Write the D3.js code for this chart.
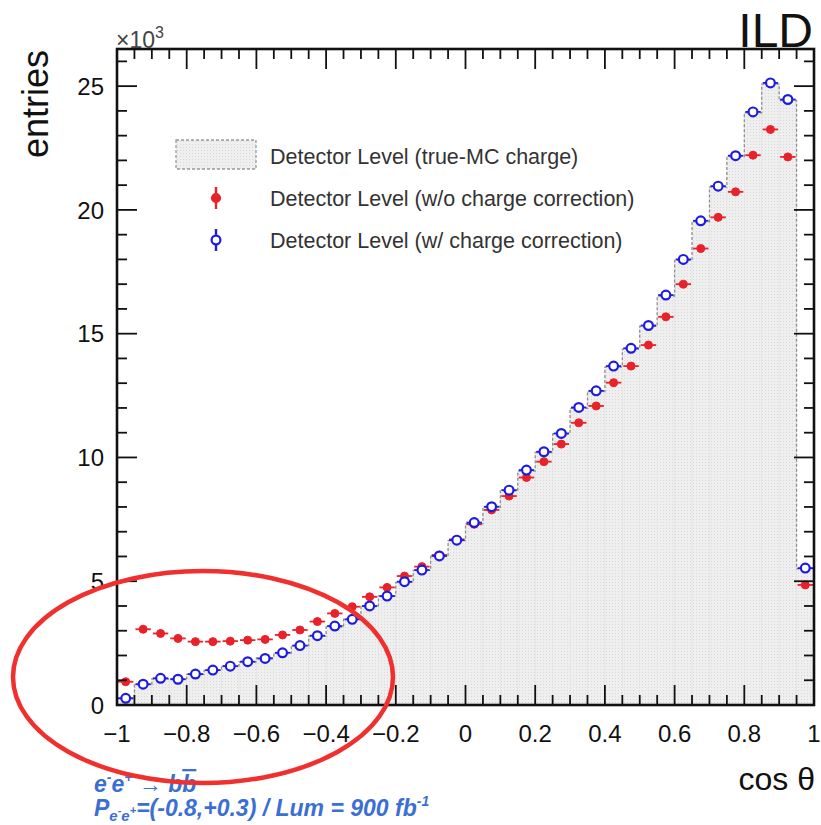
<!DOCTYPE html>
<html>
<head>
<meta charset="utf-8">
<script src="https://cdn.jsdelivr.net/npm/d3@7/dist/d3.min.js"></script>
<style>
  html, body { margin: 0; padding: 0; background: #fff; }
  svg { display: block; font-family: "Liberation Sans", Arial, Helvetica, sans-serif; }
</style>
</head>
<body>
<svg id="chart" width="821" height="825"></svg>
<script>
// cos(theta) binning: 40 bins of width 0.05 between -1 and 1
const binEdges = d3.range(41).map(i => -1 + i * 0.05);

// entries per bin, in units of 10^3
const trueMC = [0.30, 0.82, 1.05, 1.06, 1.24, 1.40, 1.58, 1.74, 1.90, 2.10,
                2.40, 2.78, 3.15, 3.47, 3.98, 4.41, 4.95, 5.44, 6.00, 6.64,
                7.33, 7.98, 8.65, 9.45, 10.20, 10.95, 11.98, 12.66, 13.65, 14.38,
                15.30, 16.52, 17.96, 19.52, 20.92, 22.15, 23.92, 25.08, 24.42, 5.50];

const noCorrection = [0.94, 3.06, 2.89, 2.69, 2.56, 2.56, 2.58, 2.62, 2.65, 2.83,
                      3.03, 3.37, 3.70, 3.97, 4.37, 4.75, 5.21, 5.59, 6.06, 6.69,
                      7.30, 7.88, 8.44, 9.19, 9.83, 10.54, 11.40, 12.08, 13.02, 13.69,
                      14.54, 15.68, 17.00, 18.44, 19.70, 20.73, 22.21, 23.25, 22.14, 4.85];

const withCorrection = [0.27, 0.84, 1.08, 1.04, 1.25, 1.41, 1.57, 1.75, 1.88, 2.11,
                        2.40, 2.80, 3.19, 3.46, 4.00, 4.40, 4.98, 5.45, 6.02, 6.66,
                        7.37, 8.01, 8.68, 9.49, 10.23, 10.97, 12.02, 12.69, 13.69, 14.41,
                        15.33, 16.56, 18.00, 19.56, 20.96, 22.19, 23.96, 25.13, 24.46, 5.53];

const xTicks = [-1, -0.8, -0.6, -0.4, -0.2, 0, 0.2, 0.4, 0.6, 0.8, 1];
const yTicks = [0, 5, 10, 15, 20, 25];

const legendLabels = [
  "Detector Level (true-MC charge)",
  "Detector Level (w/o charge correction)",
  "Detector Level (w/ charge correction)"
];

const RED = "#e82228", BLUE = "#1c1ce0", NOTE = "#3b6fd4";

const svg = d3.select("#chart");
const plotLeft = 117, plotRight = 814, plotTop = 49, plotBottom = 705;

const x = d3.scaleLinear().domain([-1, 1]).range([plotLeft, plotRight]);
const y = d3.scaleLinear().domain([0, 26.5]).range([plotBottom, plotTop]);

// ---- histogram (true-MC charge) ----
const bins = trueMC.map((v, i) => ({ x0: binEdges[i], x1: binEdges[i + 1], v }));

const defs = svg.append("defs");
const pat = defs.append("pattern").attr("id", "dots")
  .attr("patternUnits", "userSpaceOnUse").attr("width", 3).attr("height", 3);
pat.append("rect").attr("width", 3).attr("height", 3).attr("fill", "#efefef");
pat.append("rect").attr("width", 1).attr("height", 1).attr("fill", "#d9d9d9");

svg.append("g").selectAll("rect").data(bins).join("rect")
  .attr("x", d => x(d.x0)).attr("width", d => x(d.x1) - x(d.x0))
  .attr("y", d => y(d.v)).attr("height", d => y(0) - y(d.v))
  .attr("fill", "url(#dots)")
  .attr("stroke", "#e2e2e2").attr("stroke-width", 0.6);

// dashed step outline
const stepPts = [[binEdges[0], 0]];
bins.forEach(b => { stepPts.push([b.x0, b.v]); stepPts.push([b.x1, b.v]); });
stepPts.push([binEdges[40], 0]);
svg.append("path")
  .attr("d", d3.line().x(p => x(p[0])).y(p => y(p[1]))(stepPts))
  .attr("fill", "none").attr("stroke", "#8f8f8f").attr("stroke-width", 1.3)
  .attr("stroke-dasharray", "3,2");

// ---- data points ----
function drawSeries(values, color, open) {
  const g = svg.append("g");
  const pts = values.map((v, i) => ({
    cx: (binEdges[i] + binEdges[i + 1]) / 2, x0: binEdges[i], x1: binEdges[i + 1],
    v, err: Math.sqrt(v * 1000) / 1000
  }));
  g.selectAll("line.h").data(pts).join("line").attr("class", "h")
    .attr("x1", d => x(d.x0) + 1).attr("x2", d => x(d.x1) - 1)
    .attr("y1", d => y(d.v)).attr("y2", d => y(d.v))
    .attr("stroke", color).attr("stroke-width", 1.8);
  g.selectAll("line.v").data(pts).join("line").attr("class", "v")
    .attr("x1", d => x(d.cx)).attr("x2", d => x(d.cx))
    .attr("y1", d => y(d.v + d.err)).attr("y2", d => y(d.v - d.err))
    .attr("stroke", color).attr("stroke-width", 1.8);
  g.selectAll("circle").data(pts).join("circle")
    .attr("cx", d => x(d.cx)).attr("cy", d => y(d.v))
    .attr("r", open ? 4.4 : 4)
    .attr("fill", open ? "#fff" : color)
    .attr("stroke", color).attr("stroke-width", open ? 2.2 : 1);
}
drawSeries(noCorrection, RED, false);
drawSeries(withCorrection, BLUE, true);

// ---- frame and ticks (ticks inside on all four sides) ----
const axes = svg.append("g").attr("stroke", "#111");
const xMinor = d3.range(41).map(i => -1 + i * 0.05);
const yMinor = d3.range(27);

function tickSet(vals, isMajor, side) {
  const len = isMajor ? 20 : 10;
  const horiz = side === "b" || side === "t";
  axes.append("g").selectAll("line").data(vals).join("line")
    .attr("stroke-width", 1.8)
    .attr("x1", d => horiz ? x(d) : (side === "l" ? plotLeft : plotRight))
    .attr("x2", d => horiz ? x(d) : (side === "l" ? plotLeft + len : plotRight - len))
    .attr("y1", d => side === "b" ? plotBottom : side === "t" ? plotTop : y(d))
    .attr("y2", d => side === "b" ? plotBottom - len : side === "t" ? plotTop + len : y(d));
}
const isXMajor = v => Math.abs(Math.round(v * 5) - v * 5) < 1e-6;
const xMinorOnly = xMinor.filter(v => !isXMajor(v));
const yMinorOnly = yMinor.filter(v => v % 5 !== 0);
["b", "t"].forEach(s => { tickSet(xMinorOnly, false, s); tickSet(xTicks, true, s); });
["l", "r"].forEach(s => { tickSet(yMinorOnly, false, s); tickSet(yTicks, true, s); });

svg.append("rect").attr("x", plotLeft).attr("y", plotTop)
  .attr("width", plotRight - plotLeft).attr("height", plotBottom - plotTop)
  .attr("fill", "none").attr("stroke", "#111").attr("stroke-width", 2.6);

// tick labels
const fmt = d3.format("");
svg.append("g").selectAll("text").data(xTicks).join("text")
  .attr("x", d => x(d)).attr("y", 742)
  .attr("text-anchor", "middle").attr("font-size", 24).attr("fill", "#111")
  .text(d => fmt(d));
svg.append("g").selectAll("text").data(yTicks).join("text")
  .attr("x", 104).attr("y", d => y(d)).attr("dy", "0.36em")
  .attr("text-anchor", "end").attr("font-size", 24).attr("fill", "#111")
  .text(d => d);

// axis titles
svg.append("text").attr("transform", "translate(48,50) rotate(-90)")
  .attr("text-anchor", "end").attr("font-size", 36).attr("fill", "#111")
  .text("entries");
svg.append("text").attr("x", 815).attr("y", 790)
  .attr("text-anchor", "end").attr("font-size", 32).attr("fill", "#111")
  .text("cos θ");

const mult = svg.append("text").attr("x", 116).attr("y", 48)
  .attr("font-size", 23).attr("fill", "#444");
mult.append("tspan").text("×10");
mult.append("tspan").attr("font-size", 16).attr("dy", -10).text("3");

svg.append("text").attr("x", 813).attr("y", 47)
  .attr("text-anchor", "end").attr("font-size", 48).attr("fill", "#111")
  .text("ILD");

// ---- legend ----
const lg = svg.append("g").attr("font-size", 21.5).attr("fill", "#333");
const rowY = [156, 198, 240];
lg.append("rect").attr("x", 176).attr("y", 140).attr("width", 80).attr("height", 29)
  .attr("fill", "url(#dots)").attr("stroke", "#9a9a9a").attr("stroke-width", 1.3)
  .attr("stroke-dasharray", "3,2");
[[RED, false], [BLUE, true]].forEach(([c, open], k) => {
  const cy = rowY[k + 1];
  lg.append("line").attr("x1", 216).attr("x2", 216).attr("y1", cy - 11).attr("y2", cy + 11)
    .attr("stroke", c).attr("stroke-width", 2.4);
  lg.append("circle").attr("cx", 216).attr("cy", cy).attr("r", open ? 4.4 : 4)
    .attr("fill", open ? "#fff" : c).attr("stroke", c).attr("stroke-width", 2.2);
});
lg.selectAll("text").data(legendLabels).join("text")
  .attr("x", 270).attr("y", (d, i) => rowY[i]).attr("dy", "0.36em")
  .text(d => d);

// ---- process / beam annotation ----
const note = svg.append("g").attr("fill", NOTE).attr("font-style", "italic")
  .attr("font-weight", "bold");
const l1 = note.append("text").attr("x", 94).attr("y", 792).attr("font-size", 23);
l1.append("tspan").text("e");
l1.append("tspan").attr("font-size", 14).attr("dy", -10).text("-");
l1.append("tspan").attr("dy", 10).text("e");
l1.append("tspan").attr("font-size", 14).attr("dy", -10).text("+");
l1.append("tspan").attr("dy", 10).text("  →  b");
l1.append("tspan").style("text-decoration", "overline").text("b");

const l2 = note.append("text").attr("x", 94).attr("y", 816).attr("font-size", 23);
l2.append("tspan").text("P");
l2.append("tspan").attr("font-size", 15).attr("dy", 5).text("e");
l2.append("tspan").attr("font-size", 11).attr("dy", -7).text("-");
l2.append("tspan").attr("font-size", 15).attr("dy", 7).text("e");
l2.append("tspan").attr("font-size", 11).attr("dy", -7).text("+");
l2.append("tspan").attr("dy", 2).text("=(-0.8,+0.3) / Lum = 900 fb");
l2.append("tspan").attr("font-size", 14).attr("dy", -10).text("-1");

// highlight around the backward region
svg.append("ellipse").attr("cx", 203).attr("cy", 677).attr("rx", 190).attr("ry", 106)
  .attr("fill", "none").attr("stroke", "#f0302e").attr("stroke-width", 4.5);
</script>
</body>
</html>
